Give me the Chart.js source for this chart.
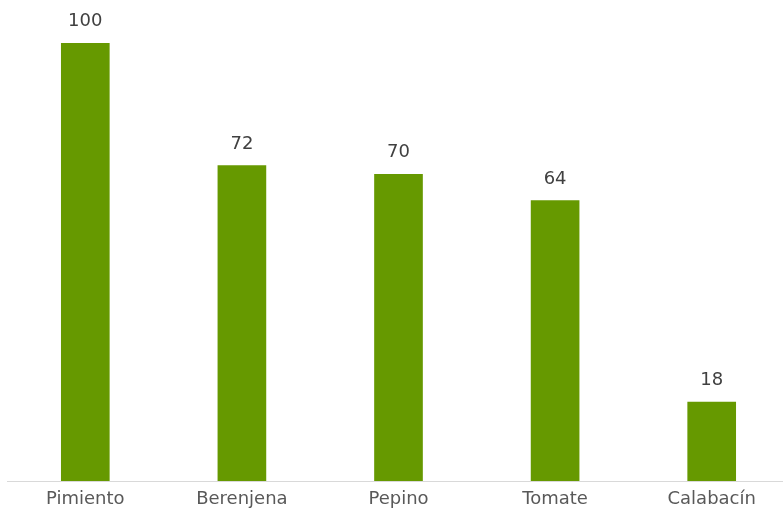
<!DOCTYPE html>
<html>
<head>
<meta charset="utf-8">
<script src="https://cdn.jsdelivr.net/npm/chart.js@4"></script>
<style>
  html, body { margin: 0; padding: 0; background: #fff; overflow: hidden; }
  #wrap { width: 790px; height: 508px; position: relative; }
</style>
</head>
<body>
<div id="wrap"><canvas id="chart"></canvas></div>
<script>
const categories = ["Pimiento", "Berenjena", "Pepino", "Tomate", "Calabacín"];
const values = [100, 72, 70, 64, 18];

// etiquetas de valor encima de cada barra
const valueLabels = {
    id: 'valueLabels',
    afterDatasetsDraw(chart) {
        const ctx = chart.ctx;
        const meta = chart.getDatasetMeta(0);
        ctx.save();
        ctx.font = '18px "DejaVu Sans"';
        ctx.fillStyle = '#404040';
        ctx.textAlign = 'center';
        ctx.textBaseline = 'alphabetic';
        meta.data.forEach((bar, i) => {
            ctx.fillText(values[i], bar.x, bar.y - 17);
        });
        ctx.restore();
    }
};

new Chart(document.getElementById('chart'), {
    type: 'bar',
    data: {
        labels: categories,
        datasets: [{
            data: values,
            backgroundColor: '#669900',
            barThickness: 48
        }]
    },
    options: {
        responsive: true,
        maintainAspectRatio: false,
        animation: false,
        layout: { padding: { top: 43, left: 7, right: 0, bottom: 0 } },
        plugins: { legend: { display: false }, tooltip: { enabled: false } },
        scales: {
            y: { display: false, min: 0, max: 100 },
            x: {
                grid: { display: false, drawTicks: false },
                border: { color: '#d9d9d9', width: 1 },
                ticks: {
                    color: '#595959',
                    font: { family: '"DejaVu Sans"', size: 18 },
                    padding: 8
                },
                afterFit(scale) { scale.height = 27; }
            }
        }
    },
    plugins: [valueLabels]
});
</script>
</body>
</html>
